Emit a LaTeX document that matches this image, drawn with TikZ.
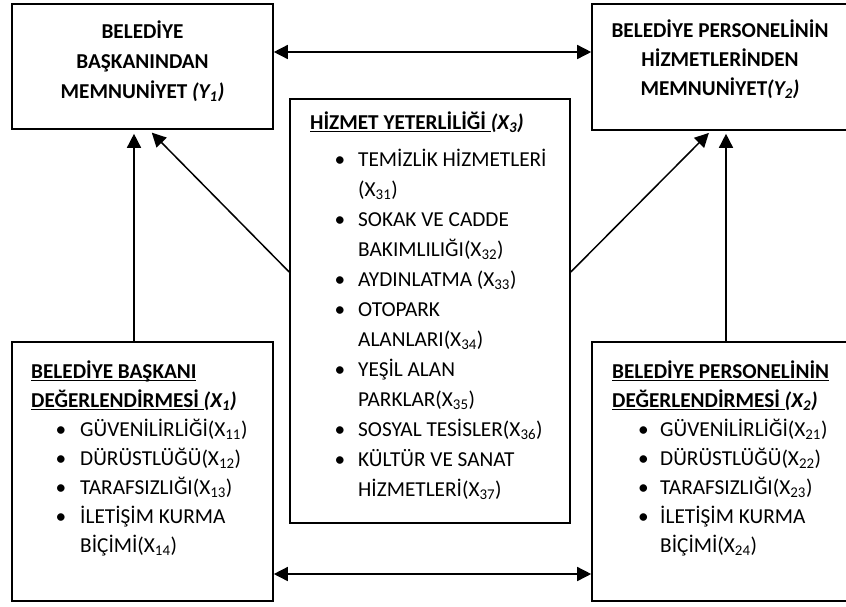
\documentclass[tikz,border=0pt]{standalone}
\usepackage{fontspec}
\setmainfont{Carlito}
\usetikzlibrary{arrows.meta,calc}
\newcommand\myul[1]{\setbox0\hbox{#1}\rlap{\rule[-3pt]{\wd0}{1.5pt}}\box0}
\begin{document}
\begin{tikzpicture}[x=1pt,y=-1pt,
  box/.style={draw, line width=1.6pt, rectangle, inner sep=0},
  txt/.style={inner sep=0, font=\fontsize{21.3}{30}\selectfont},
  ttl/.style={txt, font=\fontsize{21.2}{30}\selectfont\bfseries},
  arr/.style={line width=1.5pt, -{Triangle[length=14pt,width=14pt]}},
  darr/.style={line width=1.5pt, {Triangle[length=14pt,width=14pt]}-{Triangle[length=14pt,width=14pt]}}]
\useasboundingbox (0,0) rectangle (846,606);
% boxes
\node[box, minimum width=261pt, minimum height=125pt] (tl) at (142.5,66.5) {};
\node[box, minimum width=258pt, minimum height=126pt] (tr) at (721,67) {};
\node[box, minimum width=280pt, minimum height=424pt] (cc) at (430,311) {};
\node[box, minimum width=261pt, minimum height=259pt] (bl) at (142.5,471.5) {};
\node[box, minimum width=258pt, minimum height=259pt] (br) at (721,471.5) {};
% top-left text
\node[ttl, anchor=base] (tl1) at (142.5,38) {BELEDİYE};
\node[ttl, anchor=base] (tl2) at (142.5,68) {BAŞKANINDAN};
\node[ttl, anchor=base] (tl3) at (142.5,98) {MEMNUNİYET \textit{(Y\textsubscript{1})}};
% top-right text
\node[ttl, anchor=base] (tr1) at (720,37) {BELEDİYE PERSONELİNİN};
\node[ttl, anchor=base] (tr2) at (720,66) {HİZMETLERİNDEN};
\node[ttl, anchor=base] (tr3) at (720,95) {MEMNUNİYET\textit{(Y\textsubscript{2})}};
% centre text
\node[ttl, anchor=base west] (ct) at (310,129) {\myul{HİZMET YETERLİLİĞİ\ }\textit{(X\textsubscript{3})}};
\foreach \b/\t [count=\i from 0] in {
  1/{TEMİZLİK HİZMETLERİ},
  0/{(X\textsubscript{31})},
  1/{SOKAK VE CADDE},
  0/{BAKIMLILIĞI(X\textsubscript{32})},
  1/{AYDINLATMA (X\textsubscript{33})},
  1/{OTOPARK},
  0/{ALANLARI(X\textsubscript{34})},
  1/{YEŞİL ALAN},
  0/{PARKLAR(X\textsubscript{35})},
  1/{SOSYAL TESİSLER(X\textsubscript{36})},
  1/{KÜLTÜR VE SANAT},
  0/{HİZMETLERİ(X\textsubscript{37})}}{
  \node[txt, anchor=base west] (c\i) at (358,166+30*\i) {\t};
  \ifnum\b=1 \node[txt, anchor=base] (cb\i) at (340,166+30*\i) {•};\fi
}
% bottom-left text
\node[ttl, anchor=base west] (blt1) at (31,378) {\myul{BELEDİYE BAŞKANI}};
\node[ttl, anchor=base west] (blt2) at (31,407) {\myul{DEĞERLENDİRMESİ\ }\textit{(X\textsubscript{1})}};
\foreach \b/\t [count=\i from 0] in {
  1/{GÜVENİLİRLİĞİ(X\textsubscript{11})},
  1/{DÜRÜSTLÜĞÜ(X\textsubscript{12})},
  1/{TARAFSIZLIĞI(X\textsubscript{13})},
  1/{İLETİŞİM KURMA},
  0/{BİÇİMİ(X\textsubscript{14})}}{
  \node[txt, anchor=base west] (l\i) at (80,436+29*\i) {\t};
  \ifnum\b=1 \node[txt, anchor=base] (lb\i) at (61,436+29*\i) {•};\fi
}
% bottom-right text
\node[ttl, anchor=base west] (brt1) at (612,378) {\myul{BELEDİYE PERSONELİNİN}};
\node[ttl, anchor=base west] (brt2) at (612,407) {\myul{DEĞERLENDİRMESİ\ }\textit{(X\textsubscript{2})}};
\foreach \b/\t [count=\i from 0] in {
  1/{GÜVENİLİRLİĞİ(X\textsubscript{21})},
  1/{DÜRÜSTLÜĞÜ(X\textsubscript{22})},
  1/{TARAFSIZLIĞI(X\textsubscript{23})},
  1/{İLETİŞİM KURMA},
  0/{BİÇİMİ(X\textsubscript{24})}}{
  \node[txt, anchor=base west] (r\i) at (660,436+29*\i) {\t};
  \ifnum\b=1 \node[txt, anchor=base] (rb\i) at (643.5,436+29*\i) {•};\fi
}
% connectors
\coordinate (ytop) at (0,52);
\coordinate (ybot) at (0,574);
\coordinate (xl) at (134,0);
\coordinate (xr) at (726,0);
\coordinate (yd) at (0,272);
\coordinate (dl) at (149,0);
\coordinate (dr) at (711,0);
\draw[darr] (tl.east |- ytop) -- (tr.west |- ytop);
\draw[darr] (bl.east |- ybot) -- (br.west |- ybot);
\draw[arr, shorten >=4pt] (bl.north -| xl) -- (tl.south -| xl);
\draw[arr, shorten >=3pt] (br.north -| xr) -- (tr.south -| xr);
\draw[arr, shorten >=4pt] (cc.west |- yd) -- (tl.south -| dl);
\draw[arr, shorten >=3pt] (cc.east |- yd) -- (tr.south -| dr);
\end{tikzpicture}
\end{document}
